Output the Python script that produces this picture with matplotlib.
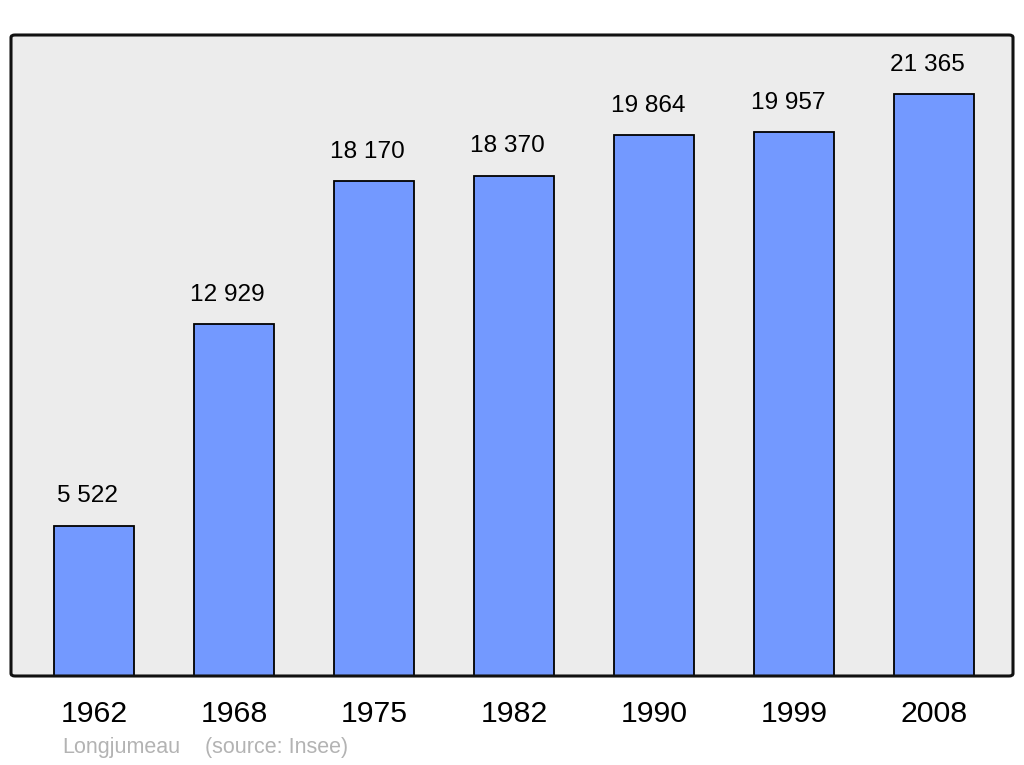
import matplotlib.pyplot as plt
from matplotlib.patches import FancyBboxPatch

plt.rcParams['font.family'] = ['Liberation Sans', 'DejaVu Sans']

years = ['1962', '1968', '1975', '1982', '1990', '1999', '2008']
population = [5522, 12929, 18170, 18370, 19864, 19957, 21365]
value_labels = ['5 522', '12 929', '18 170', '18 370', '19 864', '19 957', '21 365']

fig = plt.figure(figsize=(10.24, 7.65), dpi=100)
ax = fig.add_axes([11 / 1024, 89 / 765, 1002 / 1024, 641 / 765])
ax.set_facecolor('#ececec')

x = list(range(len(years)))
bars = ax.bar(x, population, width=0.575, color='#7399ff',
              edgecolor='black', linewidth=1.3, zorder=2)

# value labels above the bars
for xi, val, lab in zip(x, population, value_labels):
    ax.annotate(lab, (xi, val), xytext=(-4.5, 21), textcoords='offset points',
                ha='center', va='center', fontsize=17.6)

ax.set_xlim(-0.593, 6.564)
ax.set_ylim(0, 23530)
ax.set_xticks(x)
ax.set_xticklabels(years, fontsize=21.8)
ax.tick_params(axis='x', length=0, pad=17)
ax.set_yticks([])

# rounded frame instead of spines
for s in ax.spines.values():
    s.set_visible(False)
frame = FancyBboxPatch((0, 0), 1, 1, boxstyle='round,pad=0,rounding_size=0.004',
                       transform=ax.transAxes, facecolor='none',
                       edgecolor='#111111', linewidth=2.2, zorder=5, clip_on=False)
ax.add_patch(frame)

fig.text(62 / 1024, 1 - 748 / 765, 'Longjumeau', color='#b3b3b3',
         fontsize=15.5, va='center', ha='left')
fig.text(205 / 1024, 1 - 748 / 765, '(source: Insee)', color='#b3b3b3',
         fontsize=15.5, va='center', ha='left')

fig.savefig('out.png', dpi=100, facecolor='white')
